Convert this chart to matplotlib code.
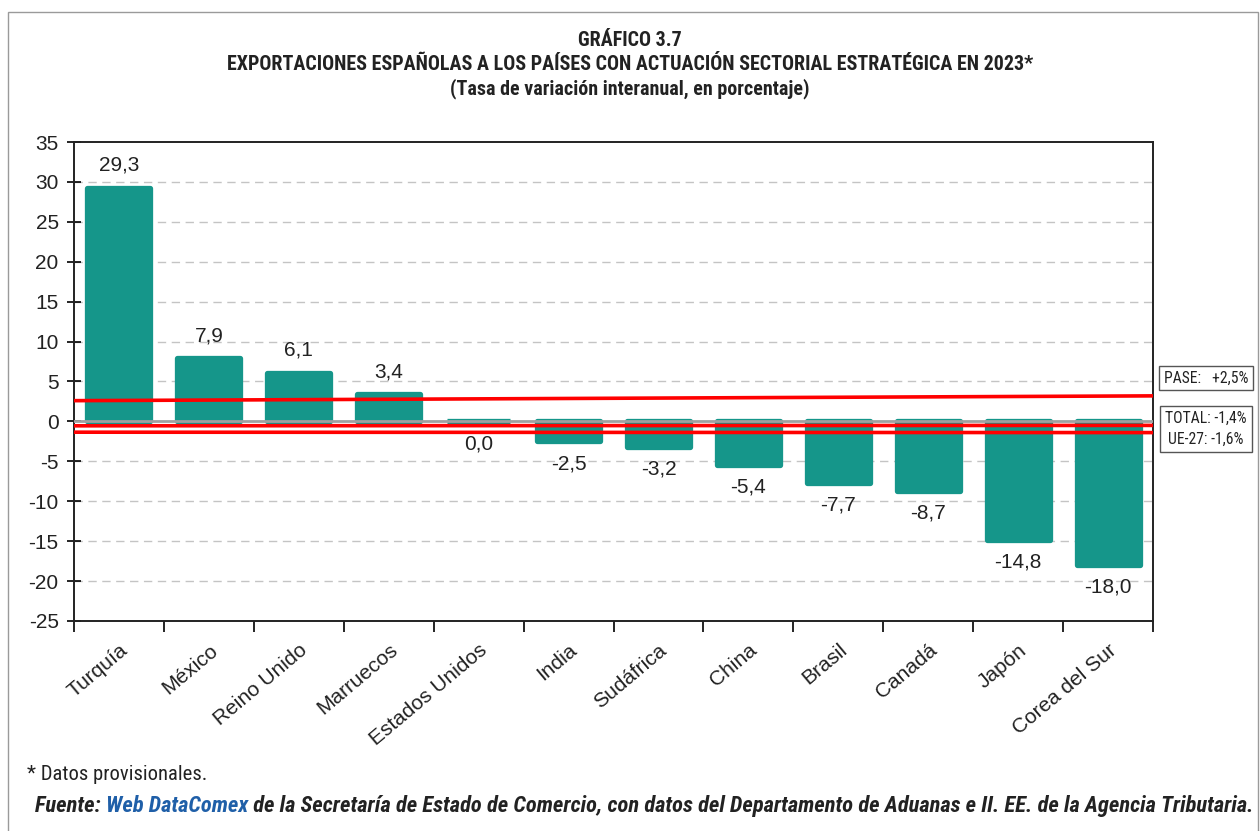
import matplotlib
matplotlib.use("Agg")
import matplotlib.pyplot as plt
from matplotlib import font_manager
from matplotlib.patches import Rectangle
from matplotlib.ticker import FixedLocator, NullFormatter

# ---------------- data ----------------
countries = ["Turquía", "México", "Reino Unido", "Marruecos", "Estados Unidos",
             "India", "Sudáfrica", "China", "Brasil", "Canadá", "Japón", "Corea del Sur"]
values = [29.3, 7.9, 6.1, 3.4, 0.0, -2.5, -3.2, -5.4, -7.7, -8.7, -14.8, -18.0]
value_labels = ["29,3", "7,9", "6,1", "3,4", "0,0", "-2,5", "-3,2", "-5,4",
                "-7,7", "-8,7", "-14,8", "-18,0"]
# reference lines as drawn (level at left edge, level at right edge)
ref_names = ["PASE", "TOTAL", "UE-27"]
ref_values = [2.5, -1.4, -1.6]
ref_drawn_left = [2.6, -0.55, -1.35]
ref_drawn_right = [3.2, -0.5, -1.4]
yticks = [35, 30, 25, 20, 15, 10, 5, 0, -5, -10, -15, -20, -25]

# -------- fonts --------
names = sorted({f.name for f in font_manager.fontManager.ttflist})
NARROW = None
for cand in ["Liberation Sans Narrow", "Arial Narrow", "Roboto Condensed",
             "Open Sans Condensed", "DejaVu Sans Condensed", "Noto Sans Condensed"]:
    if cand in names:
        NARROW = cand
        break
if NARROW is None:
    for n in names:
        if "Narrow" in n or "Condensed" in n:
            NARROW = n
            break
if NARROW is None:
    NARROW = "Liberation Sans"
BASE = "Liberation Sans"
plt.rcParams["font.family"] = [BASE, "DejaVu Sans"]
tfam = [NARROW, "DejaVu Sans"]

W, H = 1260, 831
fig = plt.figure(figsize=(W / 100, H / 100), dpi=100)

def fx(px):
    return px / W

def fy(py):
    return 1 - py / H

fig.canvas.draw()
renderer = fig.canvas.get_renderer()

def fit(t, target_w):
    bb = t.get_window_extent(renderer)
    t.set_fontsize(t.get_fontsize() * target_w / bb.width)

# outer frame
fig.patches.append(Rectangle((fx(8), fy(840)), fx(1258) - fx(8), fy(12) - fy(840),
                             transform=fig.transFigure, fill=False,
                             edgecolor="#9a9a9a", linewidth=1.0))

ax = fig.add_axes([fx(74), fy(621), fx(1153) - fx(74), fy(142) - fy(621)])
x = list(range(len(countries)))
teal = "#15968A"
bars = ax.bar(x, values, width=0.70, color=teal, edgecolor=teal, linewidth=3.8, zorder=3)
for b in bars:
    b.set_joinstyle("round")

FS = 15
ax.set_xlim(-0.5, len(countries) - 0.5)
ax.set_ylim(-25, 35)
ax.set_yticks(yticks)
ax.set_yticklabels([str(t) for t in yticks], fontsize=FS, color="#222222")
ax.tick_params(axis="y", direction="inout", length=10, width=1.2, pad=6)

# x: labels at centers, ticks at boundaries
ax.set_xticks(x)
ax.set_xticklabels(countries, rotation=40, ha="right", va="top",
                   rotation_mode="anchor", fontsize=FS, color="#222222")
ax.tick_params(axis="x", which="major", length=0, pad=14)
ax.xaxis.set_minor_locator(FixedLocator([i - 0.5 for i in range(len(countries) + 1)]))
ax.xaxis.set_minor_formatter(NullFormatter())
ax.tick_params(axis="x", which="minor", direction="out", length=8, width=1.2)

for s in ax.spines.values():
    s.set_linewidth(1.4)
    s.set_color("#222222")

# grid
for t in yticks:
    if t not in (35, -25, 0):
        ax.axhline(t, color="#c4c4c4", linewidth=1.0, dashes=(6, 4), zorder=1)
ax.axhline(0, color="#a0a0a0", linewidth=2.0, zorder=4)

# reference lines
for l, r in zip(ref_drawn_left, ref_drawn_right):
    ax.plot([-0.5, len(countries) - 0.5], [l, r], color="#ff0000", linewidth=2.6,
            zorder=5, solid_capstyle="butt")

# value labels
for xi, v, lab in zip(x, values, value_labels):
    off = 16 if v > 0 else -16
    ax.annotate(lab, (xi, v), xytext=(0, off), textcoords="offset points",
                ha="center", va="center", fontsize=FS, color="#222222", zorder=6)

# right boxes
b1 = fig.text(fx(1206), fy(378), "PASE:   +2,5%", ha="center", va="center",
              fontsize=12, family=tfam, color="#222222",
              bbox=dict(boxstyle="square,pad=0.3", fc="white", ec="#555555", lw=1.0))
fit(b1, 84)
b2 = fig.text(fx(1206), fy(429), "TOTAL: -1,4%\nUE-27: -1,6%", ha="center", va="center",
              fontsize=12, family=tfam, color="#222222", linespacing=1.55,
              bbox=dict(boxstyle="square,pad=0.3", fc="white", ec="#555555", lw=1.0))
fit(b2, 84)
b1.set_fontsize(min(b1.get_fontsize(), b2.get_fontsize()))
b2.set_fontsize(b1.get_fontsize())

# titles
t1 = fig.text(0.5, fy(40), "GRÁFICO 3.7", ha="center", va="center", fontsize=11.5,
              fontweight="bold", family=tfam, color="#222222")
t2 = fig.text(0.5, fy(64), "EXPORTACIONES ESPAÑOLAS A LOS PAÍSES CON ACTUACIÓN SECTORIAL ESTRATÉGICA EN 2023*",
              ha="center", va="center", fontsize=11.5, fontweight="bold", family=tfam, color="#222222")
t3 = fig.text(0.5, fy(89), "(Tasa de variación interanual, en porcentaje)", ha="center", va="center",
              fontsize=11.5, fontweight="bold", family=tfam, color="#222222")
fit(t2, 809)
t1.set_fontsize(t2.get_fontsize())
t3.set_fontsize(t2.get_fontsize())

# footer
parts = [("Fuente: ", "#222222"), ("Web DataComex", "#1f5fa8"),
         (" de la Secretaría de Estado de Comercio, con datos del Departamento de Aduanas e II. EE. de la Agencia Tributaria.", "#222222")]
full = fig.text(0, 0, "".join(p[0] for p in parts), fontsize=12, fontweight="bold",
                fontstyle="italic", family=tfam)
fit(full, 1215)
ffs = full.get_fontsize()
full.remove()
dp = fig.text(fx(27), fy(775), "* Datos provisionales.", ha="left", va="center",
              fontsize=ffs, family=tfam, color="#222222")
fit(dp, 181)
xpos = 35
for txt, col in parts:
    t = fig.text(fx(xpos), fy(806), txt, ha="left", va="center", fontsize=ffs,
                 fontweight="bold", fontstyle="italic", family=tfam, color=col)
    bb = t.get_window_extent(renderer)
    xpos += bb.width

fig.savefig("out.png", dpi=100)
